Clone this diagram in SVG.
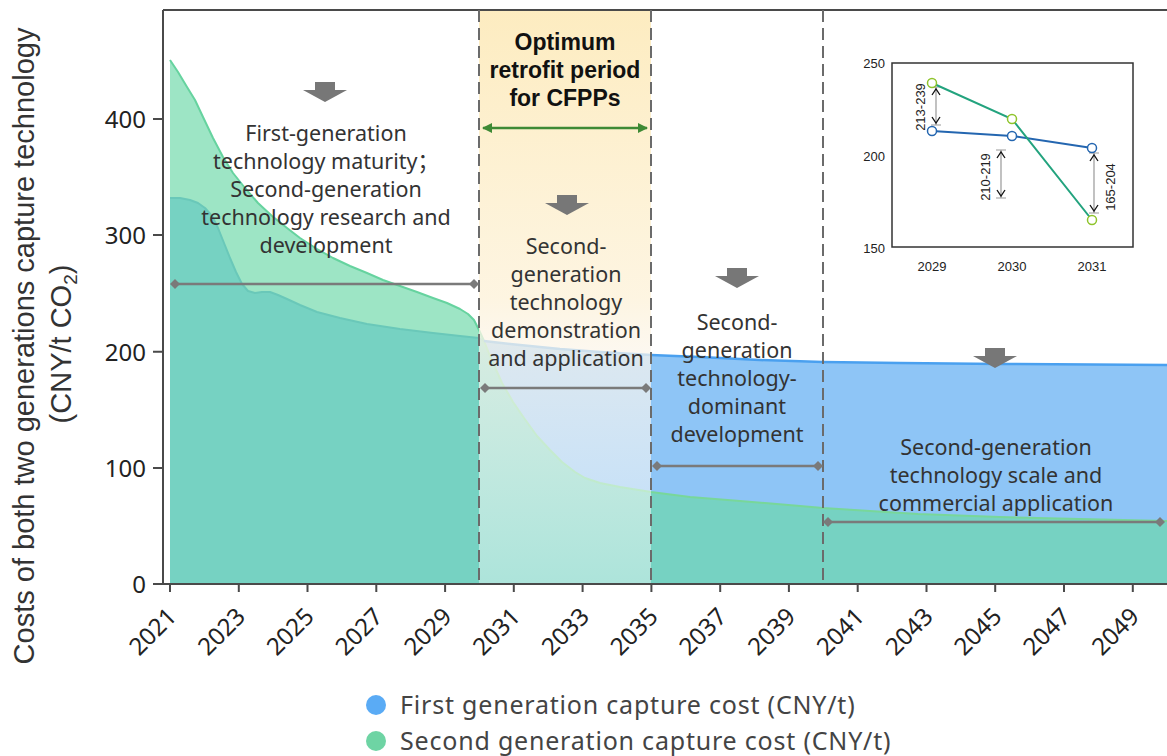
<svg xmlns="http://www.w3.org/2000/svg" width="1167" height="756" viewBox="0 0 1167 756">
<style>
.body{font-family:"Noto Sans","Noto Sans CJK SC",sans-serif;font-size:21.5px;fill:#333;text-anchor:middle}
.tick{font-family:"Noto Sans",sans-serif;font-size:24px;fill:#222}
.axt{font-family:"Liberation Sans",Arial,sans-serif;font-size:29px;fill:#333;text-anchor:middle}
.bold{font-family:"Liberation Sans",Arial,sans-serif;font-size:23px;font-weight:bold;fill:#111;text-anchor:middle}
.ins{font-family:"Liberation Sans",Arial,sans-serif;font-size:13px;fill:#222}
.leg{font-family:"Noto Sans",sans-serif;font-size:25px;letter-spacing:0.8px;fill:#444}
.range{stroke:#7a7a7a;stroke-width:2.5;fill:none;marker-start:url(#dia);marker-end:url(#dia)}
.dash{stroke:#6b6b6b;stroke-width:2;stroke-dasharray:12 6;fill:none}
.down{fill:#777}
.chev{stroke:#111;stroke-width:1.3;fill:none}
.cap{stroke:#999;stroke-width:1.2;fill:none}
</style>
<defs>
<marker id="dia" viewBox="0 0 10 10" refX="5" refY="5" markerWidth="4" markerHeight="4" orient="auto"><path d="M0,5 L5,0 L10,5 L5,10 Z" fill="#7a7a7a"/></marker>
<marker id="garr" viewBox="0 0 10 10" refX="9" refY="5" markerWidth="4" markerHeight="4" orient="auto-start-reverse"><path d="M0,0 L10,5 L0,10 Z" fill="#3e8a35"/></marker>
<linearGradient id="bandg" x1="0" y1="0" x2="0" y2="1">
<stop offset="0" stop-color="#fdebbd" stop-opacity="0.95"/>
<stop offset="0.5" stop-color="#fdf3dc" stop-opacity="0.85"/>
<stop offset="0.62" stop-color="#fbf6ee" stop-opacity="0.7"/>
<stop offset="1" stop-color="#ffffff" stop-opacity="0.4"/>
</linearGradient>
<path id="downArrow" d="M-10,0 L10,0 L10,8 L22,8 L0,20 L-22,8 L-10,8 Z"/>
</defs>
<rect width="1167" height="756" fill="#ffffff"/>

<g id="areas">
<path d="M170,584 L170,198 180,198 190,200 198,203 205,208 212,216 218,228 224,243 230,258 236,272 242,284 248,291 255,293 262,292 270,292 278,295 287,299 300,305 317,312 340,318 367,324 400,329 433,333 460,336 479,338 484,341 520,345 560,349 600,352 651,355 700,357 760,360 823,362 900,363 1000,364 1167,365 L1167,584 Z" fill="#8ec5f6"/>
<path d="M170,584 L170,60 178,72 187,87 195,100 203,117 213,138 223,157 233,173 245,188 258,203 272,216 287,228 300,238 317,249 333,258 350,266 367,273 383,280 400,286 417,292 433,298 447,303 460,309 468,314 474,320 479,330 484,341 490,356 502,383 513,402 524,418 537,436 550,450 562,462 575,472 585,478 600,483 620,487 651,492 690,497 740,501 800,506 823,508 870,511 918,514 1000,517 1080,519 1167,521 L1167,584 Z" fill="#9de5c5"/>
<path d="M170,584 L170,198 180,198 190,200 198,203 205,208 212,216 218,228 224,243 230,258 236,272 242,284 248,291 255,293 262,292 270,292 278,295 287,299 300,305 317,312 340,318 367,324 400,329 433,333 460,336 479,338 484,341 490,356 502,383 513,402 524,418 537,436 550,450 562,462 575,472 585,478 600,483 620,487 651,492 690,497 740,501 800,506 823,508 870,511 918,514 1000,517 1080,519 1167,521 L1167,584 Z" fill="#76d2c2"/>
<path d="M170,60 178,72 187,87 195,100 203,117 213,138 223,157 233,173 245,188 258,203 272,216 287,228 300,238 317,249 333,258 350,266 367,273 383,280 400,286 417,292 433,298 447,303 460,309 468,314 474,320 479,330 484,341" fill="none" stroke="#66d39f" stroke-width="2" stroke-linejoin="round"/>
<path d="M484,341 490,356 502,383 513,402 524,418 537,436 550,450 562,462 575,472 585,478 600,483 620,487 651,492 690,497 740,501 800,506 823,508 870,511 918,514 1000,517 1080,519 1167,521" fill="none" stroke="#78d79a" stroke-width="2" stroke-linejoin="round"/>
<path d="M170,198 180,198 190,200 198,203 205,208 212,216 218,228 224,243 230,258 236,272 242,284 248,291 255,293 262,292 270,292 278,295 287,299 300,305 317,312 340,318 367,324 400,329 433,333 460,336 479,338 484,341" fill="none" stroke="#6ac8b9" stroke-width="2" stroke-linejoin="round"/>
<path d="M484,341 520,345 560,349 600,352 651,355 700,357 760,360 823,362 900,363 1000,364 1167,365" fill="none" stroke="#4aa0ef" stroke-width="2.5" stroke-linejoin="round"/>
</g>

<g id="optimum-band">
<rect x="479" y="11" width="172" height="573" fill="url(#bandg)"/>
</g>

<g id="axes">
<path d="M163,10 L1167,10 M163,10 L163,584 L1167,584" fill="none" stroke="#4a4a4a" stroke-width="2"/>
<path d="M153,584 H163 M153,468 H163 M153,351.7 H163 M153,235 H163 M153,119 H163" stroke="#4a4a4a" stroke-width="2"/>
<path d="M170,584 V592 M238.8,584 V592 M307.5,584 V592 M376.3,584 V592 M445.1,584 V592 M513.8,584 V592 M582.6,584 V592 M651.4,584 V592 M720.2,584 V592 M788.9,584 V592 M857.7,584 V592 M926.5,584 V592 M995.2,584 V592 M1064,584 V592 M1132.8,584 V592" stroke="#4a4a4a" stroke-width="2"/>
<g class="tick" text-anchor="end">
<text x="146" y="593">0</text>
<text x="146" y="477">100</text>
<text x="146" y="361">200</text>
<text x="146" y="244">300</text>
<text x="146" y="128">400</text>
</g>
<g class="tick" text-anchor="end">
<text transform="translate(178,618) rotate(-45)">2021</text>
<text transform="translate(246.8,618) rotate(-45)">2023</text>
<text transform="translate(315.5,618) rotate(-45)">2025</text>
<text transform="translate(384.3,618) rotate(-45)">2027</text>
<text transform="translate(453.1,618) rotate(-45)">2029</text>
<text transform="translate(521.8,618) rotate(-45)">2031</text>
<text transform="translate(590.6,618) rotate(-45)">2033</text>
<text transform="translate(659.4,618) rotate(-45)">2035</text>
<text transform="translate(728.2,618) rotate(-45)">2037</text>
<text transform="translate(796.9,618) rotate(-45)">2039</text>
<text transform="translate(865.7,618) rotate(-45)">2041</text>
<text transform="translate(934.5,618) rotate(-45)">2043</text>
<text transform="translate(1003.2,618) rotate(-45)">2045</text>
<text transform="translate(1072,618) rotate(-45)">2047</text>
<text transform="translate(1140.8,618) rotate(-45)">2049</text>
</g>
<text class="axt" transform="translate(34,346) rotate(-90)">Costs of both two generations capture technology</text>
<text class="axt" transform="translate(71,344) rotate(-90)">(CNY/t CO<tspan font-size="19" dy="6">2</tspan><tspan dy="-6">)</tspan></text>
</g>

<g id="dividers">
<path class="dash" d="M479,10 V584"/>
<path class="dash" d="M651,10 V584"/>
<path class="dash" d="M823,10 V584"/>
</g>

<g id="connectors">
<path class="range" d="M175,284 H474"/>
<path class="range" d="M485,388 H646"/>
<path class="range" d="M657,466 H818"/>
<path class="range" d="M828,522 H1160"/>
<path d="M483,128 H647" stroke="#3e8a35" stroke-width="2.5" fill="none" marker-start="url(#garr)" marker-end="url(#garr)"/>
<use href="#downArrow" class="down" x="325" y="82"/>
<use href="#downArrow" class="down" x="567" y="195"/>
<use href="#downArrow" class="down" x="737" y="268"/>
<use href="#downArrow" class="down" x="995" y="348"/>
</g>

<g id="optimum-title">
<text class="bold" x="565" y="50">Optimum</text>
<text class="bold" x="565" y="78">retrofit period</text>
<text class="bold" x="565" y="106">for CFPPs</text>
</g>

<g id="phase1">
<text class="body" x="326" y="141">First-generation</text>
<text class="body" x="326" y="169">technology maturity；</text>
<text class="body" x="326" y="197">Second-generation</text>
<text class="body" x="326" y="225">technology research and</text>
<text class="body" x="326" y="253">development</text>
</g>

<g id="phase2">
<text class="body" x="566" y="254">Second-</text>
<text class="body" x="566" y="282">generation</text>
<text class="body" x="566" y="310">technology</text>
<text class="body" x="566" y="338">demonstration</text>
<text class="body" x="566" y="366">and application</text>
</g>

<g id="phase3">
<text class="body" x="737" y="330">Second-</text>
<text class="body" x="737" y="358">generation</text>
<text class="body" x="737" y="386">technology-</text>
<text class="body" x="737" y="414">dominant</text>
<text class="body" x="737" y="442">development</text>
</g>

<g id="phase4">
<text class="body" x="996" y="455">Second-generation</text>
<text class="body" x="996" y="483">technology scale and</text>
<text class="body" x="996" y="511">commercial application</text>
</g>

<g id="inset">
<rect x="892" y="63" width="241" height="184" fill="#ffffff" stroke="#333" stroke-width="1.5"/>
<g class="ins" text-anchor="end">
<text x="885" y="68">250</text>
<text x="885" y="161">200</text>
<text x="885" y="253">150</text>
</g>
<g class="ins" text-anchor="middle">
<text x="932" y="271">2029</text>
<text x="1012" y="271">2030</text>
<text x="1092" y="271">2031</text>
</g>
<path class="cap" d="M936,87 V125 M931,87 H941 M931,125 H941"/>
<path class="chev" d="M932,95 L936,89 L940,95 M932,117 L936,123 L940,117"/>
<path class="cap" d="M1001,150 V198 M996,150 H1006 M996,198 H1006"/>
<path class="chev" d="M997,158 L1001,152 L1005,158 M997,190 L1001,196 L1005,190"/>
<path class="cap" d="M1094,153 V213 M1089,153 H1099 M1089,213 H1099"/>
<path class="chev" d="M1090,161 L1094,155 L1098,161 M1090,205 L1094,211 L1098,205"/>
<text class="ins" text-anchor="middle" transform="translate(925,107) rotate(-90)">213-239</text>
<text class="ins" text-anchor="middle" transform="translate(990,177) rotate(-90)">210-219</text>
<text class="ins" text-anchor="middle" transform="translate(1115,187) rotate(-90)">165-204</text>
<polyline points="932,131 1012,136 1092,148" fill="none" stroke="#2466b0" stroke-width="2"/>
<polyline points="932,83 1012,119 1092,220" fill="none" stroke="#23a37e" stroke-width="2"/>
<g fill="#ffffff" stroke="#2466b0" stroke-width="1.5">
<circle cx="932" cy="131" r="4.5"/>
<circle cx="1012" cy="136" r="4.5"/>
<circle cx="1092" cy="148" r="4.5"/>
</g>
<g fill="#ffffff" stroke="#8fc42c" stroke-width="1.5">
<circle cx="932" cy="83" r="4.5"/>
<circle cx="1012" cy="119" r="4.5"/>
<circle cx="1092" cy="220" r="4.5"/>
</g>
</g>

<g id="legend">
<circle cx="376" cy="705" r="10" fill="#5aabf5"/>
<text class="leg" x="400" y="714">First generation capture cost (CNY/t)</text>
<circle cx="376" cy="741" r="10" fill="#6ed4a4"/>
<text class="leg" x="400" y="750">Second generation capture cost (CNY/t)</text>
</g>
</svg>
